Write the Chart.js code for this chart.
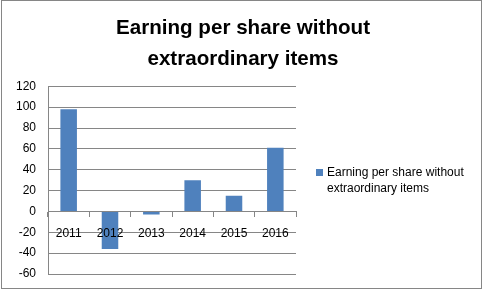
<!DOCTYPE html>
<html>
<head>
<meta charset="utf-8">
<script src="https://cdn.jsdelivr.net/npm/chart.js@4.4.1/dist/chart.umd.min.js"></script>
<style>
  html, body { margin: 0; padding: 0; background: #fff; }
  #wrap { width: 486px; height: 291px; position: relative; }
</style>
</head>
<body>
<div id="wrap"><canvas id="c" width="486" height="291"></canvas></div>
<script>
const categories = ['2011', '2012', '2013', '2014', '2015', '2016'];
const epsValues = [98, -36, -3, 30, 15, 61];
const seriesLabel = ['Earning per share without', 'extraordinary items'];
const titleLines = ['Earning per share without', 'extraordinary items'];
const yTicks = { min: -60, max: 120, step: 20 };

const BAR_COLOR = '#4F81BD';
const GRID_COLOR = '#868686';
const FONT = "'Liberation Sans', Arial, sans-serif";

const framePlugin = {
  id: 'frame',
  beforeDraw(chart) {
    const ctx = chart.ctx;
    ctx.save();
    ctx.fillStyle = '#fff';
    ctx.fillRect(0, 0, chart.width, chart.height);
    ctx.strokeStyle = GRID_COLOR;
    ctx.lineWidth = 1;
    ctx.strokeRect(1.5, 0.5, 480, 288);
    ctx.restore();
  },
  afterDraw(chart) {
    const ctx = chart.ctx;
    const ds = chart.data.datasets[0];
    const lines = Array.isArray(ds.label) ? ds.label : [ds.label];
    ctx.save();
    ctx.fillStyle = ds.backgroundColor;
    ctx.fillRect(316, 169, 7, 7);
    ctx.fillStyle = '#000';
    ctx.font = '12px ' + FONT;
    ctx.textBaseline = 'middle';
    ctx.textAlign = 'left';
    lines.forEach((t, i) => ctx.fillText(t, 327, 173 + i * 15.5));
    ctx.restore();
  }
};

new Chart(document.getElementById('c'), {
  type: 'bar',
  data: {
    labels: categories,
    datasets: [{
      label: seriesLabel,
      data: epsValues,
      backgroundColor: BAR_COLOR,
      borderWidth: 0,
      barPercentage: 0.4,
      categoryPercentage: 1.0
    }]
  },
  options: {
    responsive: false,
    animation: false,
    devicePixelRatio: 1,
    layout: { padding: { left: 0, right: 0, top: 0, bottom: 17 } },
    plugins: {
      legend: { display: false },
      tooltip: { enabled: false },
      title: {
        display: true,
        text: titleLines,
        color: '#000',
        font: { family: FONT, size: 20.6, weight: 'bold', lineHeight: 1.5 },
        padding: { top: 12.5, bottom: 12 }
      }
    },
    scales: {
      x: {
        position: { y: 0 },
        afterFit(scale) { scale.height = 0; },
        grid: {
          display: true,
          drawOnChartArea: false,
          drawTicks: true,
          tickLength: 5,
          offset: true,
          color: GRID_COLOR
        },
        border: { display: true, color: GRID_COLOR },
        ticks: {
          z: 1,
          color: '#000',
          font: { family: FONT, size: 12 },
          padding: 10,
          maxRotation: 0
        }
      },
      y: {
        min: yTicks.min,
        max: yTicks.max,
        afterFit(scale) { scale.width = 48; },
        ticks: {
          stepSize: yTicks.step,
          color: '#000',
          font: { family: FONT, size: 12 },
          padding: 0
        },
        grid: {
          color: GRID_COLOR,
          drawTicks: true,
          tickLength: 12,
          tickColor: 'rgba(0,0,0,0)'
        },
        border: { display: true, color: GRID_COLOR }
      },
      legendSpace: {
        type: 'linear',
        position: 'right',
        display: true,
        afterFit(scale) { scale.width = 190; },
        ticks: { display: false },
        grid: { display: false, drawTicks: false },
        border: { display: false }
      }
    }
  },
  plugins: [framePlugin]
});
</script>
</body>
</html>
